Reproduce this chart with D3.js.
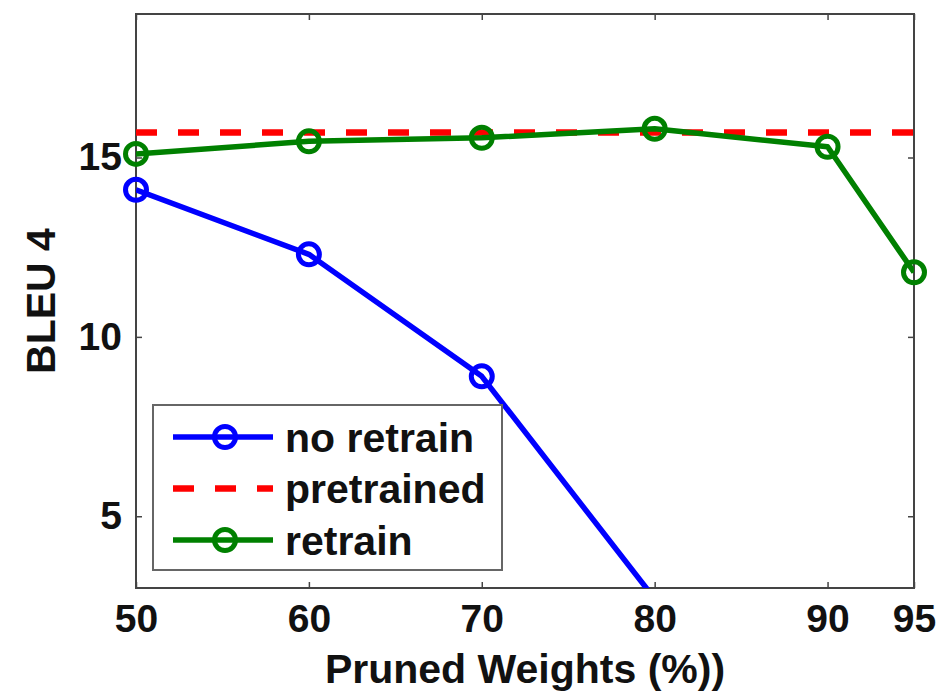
<!DOCTYPE html>
<html>
<head>
<meta charset="utf-8">
<script src="https://cdn.jsdelivr.net/npm/d3@7"></script>
<style>
  body { margin: 0; background: #fff; }
  svg text { font-family: "Liberation Sans", Arial, sans-serif; font-weight: bold; fill: #111; }
</style>
</head>
<body>
<div id="chart"></div>
<script>
// data
const prunedPct = [50, 60, 70, 80, 90, 95];
const noRetrain = [14.1, 12.3, 8.9, 2.7, null, null];
const retrain = [15.1, 15.45, 15.55, 15.8, 15.3, 11.8];
const pretrained = 15.7;
const xTicks = [50, 60, 70, 80, 90, 95];
const yTicks = [5, 10, 15];
const legendNames = ['no retrain', 'pretrained', 'retrain'];

const W = 943, H = 691;
const margin = { top: 14, right: 29, bottom: 103, left: 136 };
const width = W - margin.left - margin.right;
const height = H - margin.top - margin.bottom;

const svg = d3.select('#chart').append('svg')
  .attr('width', W).attr('height', H);

const g = svg.append('g')
  .attr('transform', `translate(${margin.left}, ${margin.top})`);

const x = d3.scaleLinear().domain([50, 95]).range([0, width]);
const y = d3.scaleLinear().domain([3, 19]).range([height, 0]);

g.append('clipPath').attr('id', 'plotClip')
  .append('rect').attr('width', width).attr('height', height);

const axisColor = '#444';

// frame
g.append('rect')
  .attr('width', width).attr('height', height)
  .attr('fill', 'none').attr('stroke', axisColor).attr('stroke-width', 2);

// axes with inward ticks
const xAxis = g.append('g').attr('transform', `translate(0, ${height})`)
  .call(d3.axisBottom(x).tickValues(xTicks).tickSize(-6).tickPadding(16).tickFormat(d3.format('d')));
const xTop = g.append('g')
  .call(d3.axisTop(x).tickValues(xTicks).tickSize(-6).tickFormat(''));
const yAxis = g.append('g')
  .call(d3.axisLeft(y).tickValues(yTicks).tickSize(-6).tickPadding(14));
const yRight = g.append('g').attr('transform', `translate(${width}, 0)`)
  .call(d3.axisRight(y).tickValues(yTicks).tickSize(-6).tickFormat(''));

[xAxis, xTop, yAxis, yRight].forEach(a => {
  a.select('.domain').remove();
  a.selectAll('line').attr('stroke', axisColor).attr('stroke-width', 1.5);
});
xAxis.selectAll('text').attr('font-size', 39).attr('dy', '0.71em');
yAxis.selectAll('text').attr('font-size', 39);

// axis titles
svg.append('text')
  .attr('x', margin.left + width / 2)
  .attr('y', 683)
  .attr('text-anchor', 'middle')
  .attr('font-size', 41)
  .text('Pruned Weights (%))');

svg.append('text')
  .attr('transform', `translate(55, 301) rotate(-90)`)
  .attr('text-anchor', 'middle')
  .attr('font-size', 41)
  .text('BLEU 4');

// series
const plot = g.append('g').attr('clip-path', 'url(#plotClip)');

const line = d3.line()
  .defined(d => d.v != null)
  .x(d => x(d.p))
  .y(d => y(d.v));

const blueData = prunedPct.map((p, i) => ({ p, v: noRetrain[i] }));
const greenData = prunedPct.map((p, i) => ({ p, v: retrain[i] }));

plot.append('line')
  .attr('x1', x(50)).attr('x2', x(95))
  .attr('y1', y(pretrained)).attr('y2', y(pretrained))
  .attr('stroke', '#ff0000').attr('stroke-width', 6.5)
  .attr('stroke-dasharray', '21 21');

plot.append('path').datum(blueData)
  .attr('d', line).attr('fill', 'none')
  .attr('stroke', '#0000ff').attr('stroke-width', 5.5).attr('stroke-linejoin', 'round');

plot.append('path').datum(greenData)
  .attr('d', line).attr('fill', 'none')
  .attr('stroke', '#008000').attr('stroke-width', 5.5).attr('stroke-linejoin', 'round');

const inDomain = d => d.v != null && d.v >= 3 && d.v <= 19;

g.selectAll('.m-blue').data(blueData.filter(inDomain)).enter()
  .append('circle').attr('class', 'm-blue')
  .attr('cx', d => x(d.p)).attr('cy', d => y(d.v)).attr('r', 10.5)
  .attr('fill', 'none').attr('stroke', '#0000ff').attr('stroke-width', 5);

g.selectAll('.m-green').data(greenData.filter(inDomain)).enter()
  .append('circle').attr('class', 'm-green')
  .attr('cx', d => x(d.p)).attr('cy', d => y(d.v)).attr('r', 10.5)
  .attr('fill', 'none').attr('stroke', '#008000').attr('stroke-width', 5);

// legend
const legend = svg.append('g').attr('transform', 'translate(153, 405)');
legend.append('rect')
  .attr('width', 349).attr('height', 165)
  .attr('fill', '#fff').attr('stroke', '#666').attr('stroke-width', 2);

const legendColors = ['#0000ff', '#ff0000', '#008000'];
legendNames.forEach((name, i) => {
  const ly = 32 + i * 51.5;
  const row = legend.append('g').attr('transform', `translate(0, ${ly})`);
  const ln = row.append('line')
    .attr('x1', 20).attr('x2', 120).attr('y1', 0).attr('y2', 0)
    .attr('stroke', legendColors[i]).attr('stroke-width', i === 1 ? 6.5 : 5.5);
  if (i === 1) {
    ln.attr('stroke-dasharray', '21 21');
  } else {
    row.append('circle').attr('cx', 72).attr('cy', 0).attr('r', 10.5)
      .attr('fill', 'none').attr('stroke', legendColors[i]).attr('stroke-width', 5);
  }
  row.append('text')
    .attr('x', 132).attr('y', 0).attr('dy', '0.36em')
    .attr('font-size', 41)
    .text(name);
});
</script>
</body>
</html>
